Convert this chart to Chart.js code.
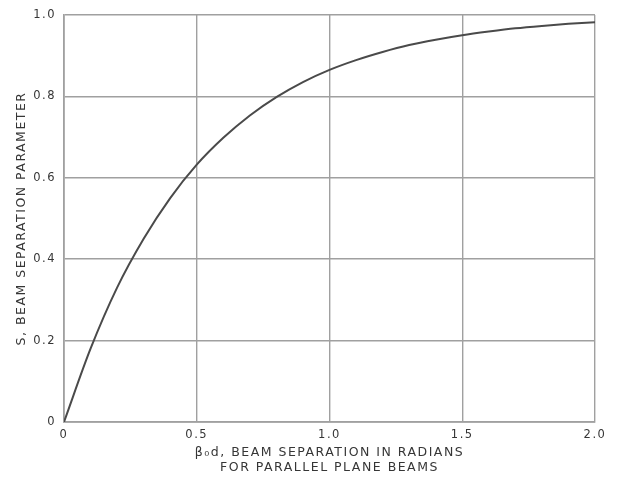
<!DOCTYPE html>
<html>
<head>
<meta charset="utf-8">
<script src="https://cdn.jsdelivr.net/npm/chart.js@4/dist/chart.umd.min.js"></script>
<style>
  html, body { margin: 0; padding: 0; background: #fff; }
  #wrap { width: 619px; height: 480px; position: relative; }
</style>
</head>
<body>
<div id="wrap"><canvas id="c"></canvas></div>
<script>
// Beam separation in radians (β0·d) and the separation parameter S
const separation = [0, 0.1, 0.2, 0.3, 0.4, 0.5, 0.6, 0.7, 0.8, 0.9, 1.0, 1.1, 1.2, 1.3, 1.4, 1.5, 1.6, 1.7, 1.8, 1.9, 2.0];
const paramS     = [0, 0.18, 0.33, 0.45, 0.55, 0.632, 0.698, 0.753, 0.798, 0.835, 0.865, 0.889, 0.909, 0.926, 0.939, 0.950, 0.959, 0.967, 0.973, 0.978, 0.982];

const xTickLabels = ['0', '0.5', '1.0', '1.5', '2.0'];
const yTickLabels = ['0', '0.2', '0.4', '0.6', '0.8', '1.0'];

const xTitle = ['\u03B2\u2080d, BEAM SEPARATION IN RADIANS', 'FOR PARALLEL PLANE BEAMS'];
const yTitle = 'S, BEAM SEPARATION PARAMETER';

const points = separation.map((x, i) => ({ x: x, y: paramS[i] }));

const ink = '#363636';
const gridGray = '#a0a0a0';
const font = 'DejaVu Sans';

// widen letter spacing for the lettering style of the labels
const spacing = {
  id: 'spacing',
  beforeLayout(chart) { chart.ctx.letterSpacing = '1.5px'; },
  beforeDraw(chart) { chart.ctx.letterSpacing = '1.5px'; }
};

new Chart(document.getElementById('c'), {
  type: 'scatter',
  data: {
    datasets: [{
      data: points,
      showLine: true,
      borderColor: '#4a4a4a',
      borderWidth: 2,
      pointRadius: 0,
      cubicInterpolationMode: 'monotone',
      fill: false
    }]
  },
  options: {
    responsive: true,
    maintainAspectRatio: false,
    animation: false,
    layout: { padding: { top: 9, right: 24, left: 14, bottom: 4 } },
    plugins: { legend: { display: false }, tooltip: { enabled: false } },
    scales: {
      x: {
        type: 'linear',
        min: 0, max: 2,
        afterBuildTicks(s) {
          s.ticks = xTickLabels.map((_, i) => ({ value: i * 0.5 }));
        },
        afterFit(s) { s.height = 54; },
        grid: { color: gridGray, lineWidth: 1.4, drawTicks: false },
        border: { color: gridGray, width: 1.7 },
        ticks: {
          padding: 6,
          color: ink,
          font: { family: font, size: 11.5 },
          maxRotation: 0,
          callback: (v, i) => xTickLabels[i]
        },
        title: {
          display: true,
          text: xTitle,
          color: ink,
          font: { family: font, size: 12.5, lineHeight: 1.25 },
          padding: { top: 3, bottom: 0 }
        }
      },
      y: {
        type: 'linear',
        min: 0, max: 1,
        afterBuildTicks(s) {
          s.ticks = yTickLabels.map((_, i) => ({ value: i * 0.2 }));
        },
        afterFit(s) { s.width = 50; },
        grid: { color: gridGray, lineWidth: 1.4, drawTicks: false },
        border: { color: gridGray, width: 1.7 },
        ticks: {
          padding: 8,
          color: ink,
          font: { family: font, size: 11.5 },
          callback: (v, i) => yTickLabels[i]
        },
        title: {
          display: true,
          text: yTitle,
          color: ink,
          font: { family: font, size: 12.5 },
          padding: { top: 0, bottom: 6 }
        }
      }
    }
  },
  plugins: [spacing]
});
</script>
</body>
</html>
